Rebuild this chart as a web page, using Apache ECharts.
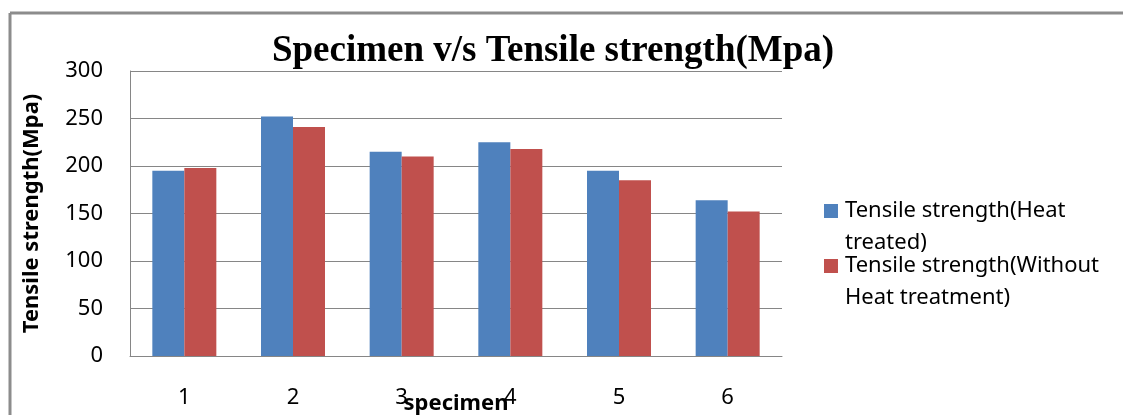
<!DOCTYPE html>
<html>
<head>
<meta charset="utf-8">
<script src="https://cdn.jsdelivr.net/npm/echarts@6/dist/echarts.min.js"></script>
<style>
html,body{margin:0;padding:0;background:#fff;}
#chart{width:1123px;height:415px;}
</style>
</head>
<body>
<div id="chart"></div>
<script>
const categories = ['1', '2', '3', '4', '5', '6'];
const heatTreated = [195, 252, 215, 225, 195, 164];
const withoutHeat = [198, 241, 210, 218, 185, 152];
const yTicks = [0, 50, 100, 150, 200, 250, 300];
const seriesNames = ['Tensile strength(Heat\ntreated)', 'Tensile strength(Without\nHeat treatment)'];

const chart = echarts.init(document.getElementById('chart'), null, {renderer: 'canvas'});
const iconPath = 'path://M0,0L10,0L10,10L0,10Z M0,32.9L0.01,32.9';
chart.setOption({
  animation: false,
  backgroundColor: '#fff',
  title: {
    text: 'Specimen v/s Tensile strength(Mpa)',
    left: 548, top: 28, textAlign: 'center',
    textStyle: {fontFamily: 'Liberation Serif', fontWeight: 'bold', fontSize: 37, color: '#000'}
  },
  grid: {left: 130, right: 341, top: 71, bottom: 59, containLabel: false, outerBoundsMode: 'none'},
  legend: {
    orient: 'vertical',
    left: 819, top: 190,
    itemWidth: 14, itemHeight: 46,
    itemGap: -9,
    icon: iconPath,
    textStyle: {fontFamily: 'Noto Sans', fontSize: 22, color: '#000', lineHeight: 32, padding: [0,0,0,2]},
    data: seriesNames
  },
  xAxis: {
    type: 'category',
    data: categories,
    name: 'specimen',
    nameLocation: 'middle',
    nameGap: 37,
    nameMoveOverlap: false,
    nameTextStyle: {fontFamily: 'Noto Sans', fontSize: 22, fontWeight: 'bold', color: '#000'},
    axisLine: {lineStyle: {color: '#868686', width: 1}},
    axisTick: {show: false},
    axisLabel: {fontFamily: 'Noto Sans', fontSize: 22, color: '#000', margin: 31, hideOverlap: false},
    z: 5
  },
  yAxis: {
    type: 'value',
    min: yTicks[0], max: yTicks[yTicks.length - 1], interval: 50,
    name: 'Tensile strength(Mpa)',
    nameLocation: 'middle',
    nameGap: 87,
    nameTextStyle: {fontFamily: 'Noto Sans', fontSize: 22, fontWeight: 'bold', color: '#000'},
    axisLine: {show: true, lineStyle: {color: '#868686', width: 1}},
    axisTick: {show: true, length: 0},
    axisLabel: {fontFamily: 'Noto Sans', fontSize: 22, color: '#000', margin: 27},
    splitLine: {lineStyle: {color: '#868686', width: 1}}
  },
  series: [
    {
      name: seriesNames[0], type: 'bar', data: heatTreated,
      barWidth: 32, barGap: '0%',
      itemStyle: {color: '#4F81BD'}
    },
    {
      name: seriesNames[1], type: 'bar', data: withoutHeat,
      barWidth: 32, barGap: '0%',
      itemStyle: {color: '#C0504D'}
    }
  ],
  graphic: [
    {type: 'line', shape: {x1: 10, y1: 13, x2: 1123, y2: 13}, style: {stroke: '#8c8c8c', lineWidth: 3}},
    {type: 'line', shape: {x1: 10, y1: 13, x2: 10, y2: 415}, style: {stroke: '#8c8c8c', lineWidth: 3}}
  ]
});
</script>
</body>
</html>
